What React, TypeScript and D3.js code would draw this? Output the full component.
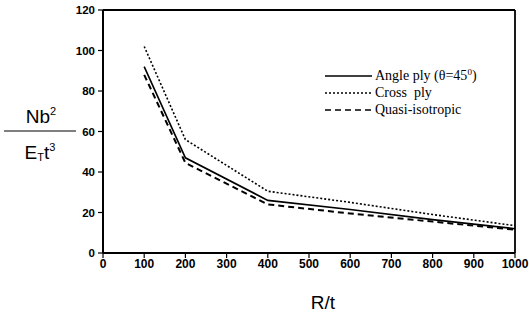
import React from 'react';
import * as d3 from 'd3';

// R/t values where the curves were computed
const ratios = [100, 200, 400, 600, 800, 1000];
// Nb^2 / (E_T t^3) per laminate
const angleVals = [92, 47, 26, 21.5, 16.5, 12];
const crossVals = [102, 56, 30.5, 25, 19, 13.5];
const quasiVals = [88, 44.5, 24, 19.5, 15.5, 11.5];

const xTicks = [0, 100, 200, 300, 400, 500, 600, 700, 800, 900, 1000];
const yTicks = [0, 20, 40, 60, 80, 100, 120];

const series = [
  { name: 'Angle ply', values: angleVals, dash: null, width: 1.6 },
  { name: 'Cross\u00a0\u00a0ply', values: crossVals, dash: '2,2', width: 1.6 },
  { name: 'Quasi-isotropic', values: quasiVals, dash: '6,4', width: 2 },
];

const W = 529;
const H = 320;
const left = 103, right = 515, top = 10, bottom = 253;

export default function App() {
  const x = d3.scaleLinear().domain([0, 1000]).range([left, right]);
  const y = d3.scaleLinear().domain([0, 120]).range([bottom, top]);

  const line = d3.line<number>()
    .x((_, i) => x(ratios[i]))
    .y(d => y(d));

  const tickFont = { fontFamily: 'Liberation Sans, Arial, sans-serif', fontWeight: 'bold', fontSize: 11.5 };
  const labelFont = 'Liberation Sans, Arial, sans-serif';
  const legendFont = 'Liberation Serif, Times New Roman, serif';

  return (
    <svg width={W} height={H} style={{ position: 'absolute', left: 0, top: 0, background: '#fff' }}>
      {/* frame */}
      <line x1={left} y1={top} x2={left} y2={bottom} stroke="#000" strokeWidth={2} />
      <line x1={left} y1={bottom} x2={right} y2={bottom} stroke="#000" strokeWidth={2} />
      <line x1={left} y1={top} x2={right} y2={top} stroke="#000" strokeWidth={2} />
      <line x1={right} y1={top} x2={right} y2={bottom} stroke="#000" strokeWidth={1.8} />

      {/* y ticks */}
      {yTicks.map(t => (
        <g key={'y' + t}>
          <line x1={left - 5} x2={left} y1={y(t)} y2={y(t)} stroke="#000" strokeWidth={1.2} />
          <text x={left - 8} y={y(t)} dy="0.35em" textAnchor="end" {...tickFont}>{t}</text>
        </g>
      ))}

      {/* x ticks */}
      {xTicks.map(t => (
        <g key={'x' + t}>
          <line x1={x(t)} x2={x(t)} y1={bottom} y2={bottom + 5} stroke="#000" strokeWidth={1.2} />
          <text x={x(t)} y={bottom + 15} textAnchor="middle" {...tickFont} fontSize={12}>{t}</text>
        </g>
      ))}

      {/* curves */}
      {series.map(s => (
        <path key={s.name} d={line(s.values) || ''} fill="none" stroke="#000"
          strokeWidth={s.width} strokeDasharray={s.dash || undefined} />
      ))}

      {/* legend */}
      {series.map((s, i) => {
        const ly = 76 + i * 17;
        return (
          <g key={'lg' + i}>
            <line x1={325} x2={372} y1={ly} y2={ly} stroke="#000" strokeWidth={1.4}
              strokeDasharray={s.dash || undefined} />
            <text x={375} y={ly + 4} fontFamily={legendFont} fontSize={14}>
              {s.name}
              {i === 0 && (
                <tspan>{' (θ=45'}<tspan dy={-5} fontSize={9}>0</tspan><tspan dy={5}>)</tspan></tspan>
              )}
            </text>
          </g>
        );
      })}

      {/* y-axis label as fraction */}
      <text x={41} y={123} textAnchor="middle" fontFamily={labelFont} fontSize={19}>
        Nb<tspan dy={-8} fontSize={11}>2</tspan>
      </text>
      <line x1={4} x2={76} y1={131} y2={131} stroke="#000" strokeWidth={1} />
      <text x={40} y={159} textAnchor="middle" fontFamily={labelFont} fontSize={19}>
        E<tspan fontSize={11} dy={2}>T</tspan><tspan dy={-2}>t</tspan><tspan dy={-8} fontSize={11}>3</tspan>
      </text>

      {/* x-axis label */}
      <text x={323} y={309} textAnchor="middle" fontFamily={labelFont} fontSize={19}>R/t</text>
    </svg>
  );
}
